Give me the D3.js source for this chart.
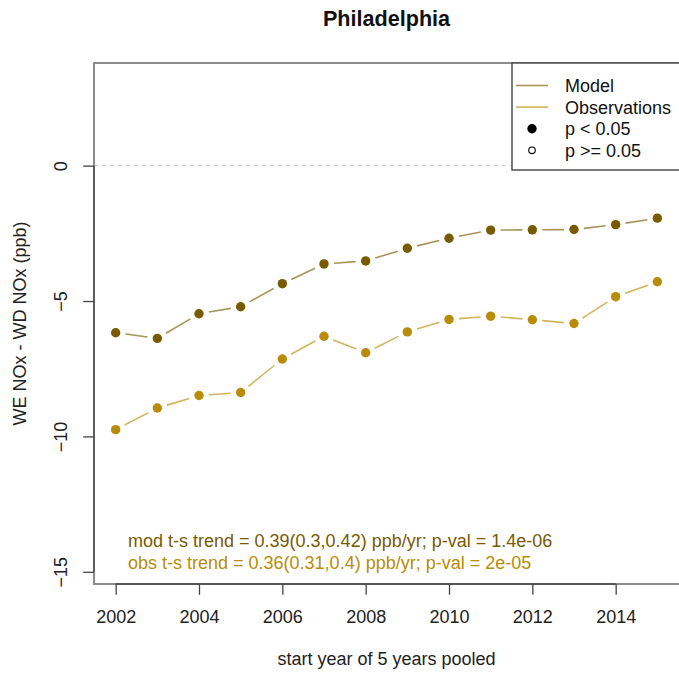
<!DOCTYPE html>
<html>
<head>
<meta charset="utf-8">
<script src="https://cdn.jsdelivr.net/npm/d3@7"></script>
<style>
  html, body { margin: 0; padding: 0; background: #fff; }
  svg { display: block; font-family: "Liberation Sans", Arial, Helvetica, sans-serif; }
</style>
</head>
<body>
<svg id="chart" width="679" height="673"></svg>
<script>
// Start year of each 5-year pooled window
const years = [2002, 2003, 2004, 2005, 2006, 2007, 2008, 2009, 2010, 2011, 2012, 2013, 2014, 2015];
// Weekend minus weekday NOx (ppb)
const modelValues = [-6.17, -6.38, -5.47, -5.21, -4.36, -3.63, -3.52, -3.05, -2.68, -2.38, -2.37, -2.36, -2.18, -1.94];
const obsValues   = [-9.75, -8.95, -8.49, -8.38, -7.14, -6.30, -6.91, -6.14, -5.68, -5.56, -5.69, -5.83, -4.84, -4.29];
// Significance of each point (true: p < 0.05)
const modelSig = years.map(() => true);
const obsSig   = years.map(() => true);

const xTicks = [2002, 2004, 2006, 2008, 2010, 2012, 2014];
const yTicks = [0, -5, -10, -15];
const legendLabels = ["Model", "Observations", "p < 0.05", "p >= 0.05"];
const trendLines = [
  "mod t-s trend = 0.39(0.3,0.42) ppb/yr; p-val = 1.4e-06",
  "obs t-s trend = 0.36(0.31,0.4) ppb/yr; p-val = 2e-05"
];

const modelColor = "#785a00";
const obsColor = "#b88c06";

const svg = d3.select("#chart");
const plot = { left: 94, right: 679, top: 63, bottom: 584 };

const x = d3.scaleLinear().domain([2001.48, 2015.52]).range([plot.left, plot.right]);
const y = d3.scaleLinear().domain([3.79, -15.45]).range([plot.top, plot.bottom]);

// Zero reference line
svg.append("line")
  .attr("x1", plot.left).attr("x2", plot.right)
  .attr("y1", y(0)).attr("y2", y(0))
  .attr("stroke", "#cfcfcf").attr("stroke-width", 1.2)
  .attr("stroke-dasharray", "4,4");

// Series: line segments with gaps around each point, then points
function drawSeries(vals, sig, color) {
  const pts = years.map((yr, i) => [x(yr), y(vals[i])]);
  const gap = 10;
  const g = svg.append("g");
  for (let i = 0; i < pts.length - 1; i++) {
    const [x0, y0] = pts[i], [x1, y1] = pts[i + 1];
    const dx = x1 - x0, dy = y1 - y0, len = Math.hypot(dx, dy);
    if (len <= 2 * gap) continue;
    const ux = dx / len, uy = dy / len;
    g.append("line")
      .attr("x1", x0 + ux * gap).attr("y1", y0 + uy * gap)
      .attr("x2", x1 - ux * gap).attr("y2", y1 - uy * gap)
      .attr("stroke", color).attr("stroke-opacity", 0.65)
      .attr("stroke-width", 1.6);
  }
  g.selectAll("circle").data(pts).join("circle")
    .attr("cx", d => d[0]).attr("cy", d => d[1])
    .attr("r", (d, i) => sig[i] ? 4.7 : 3.3)
    .attr("fill", (d, i) => sig[i] ? color : "#fff")
    .attr("stroke", color).attr("stroke-width", (d, i) => sig[i] ? 0 : 1.2);
}
drawSeries(modelValues, modelSig, modelColor);
drawSeries(obsValues, obsSig, obsColor);

// Plot frame
svg.append("rect")
  .attr("x", plot.left).attr("y", plot.top)
  .attr("width", plot.right - plot.left + 5).attr("height", plot.bottom - plot.top)
  .attr("fill", "none").attr("stroke", "#808080").attr("stroke-width", 1.8);

// Axes
const xAxis = d3.axisBottom(x).tickValues(xTicks).tickFormat(d3.format("d"))
  .tickSize(10.8).tickPadding(0).tickSizeOuter(0);
const gx = svg.append("g").attr("transform", `translate(0,${plot.bottom})`).call(xAxis);
gx.select(".domain").remove();
gx.append("line").attr("x1", x(2002)).attr("x2", x(2014)).attr("stroke", "#444").attr("stroke-width", 1.3);
gx.selectAll(".tick line").attr("stroke", "#444").attr("stroke-width", 1.3);
gx.selectAll(".tick text")
  .attr("y", 39).attr("dy", null)
  .attr("font-size", 18).attr("fill", "#222")
  .attr("font-family", "Liberation Sans, Arial, sans-serif");

const yAxis = d3.axisLeft(y).tickValues(yTicks).tickFormat(d3.format("d"))
  .tickSize(10.8).tickPadding(0).tickSizeOuter(0);
const gy = svg.append("g").attr("transform", `translate(${plot.left},0)`).call(yAxis);
gy.select(".domain").remove();
gy.append("line").attr("y1", y(0)).attr("y2", y(-15)).attr("stroke", "#444").attr("stroke-width", 1.3);
gy.selectAll(".tick line").attr("stroke", "#444").attr("stroke-width", 1.3);
gy.selectAll(".tick text")
  .attr("x", null).attr("dy", null)
  .attr("transform", "translate(-27,0) rotate(-90)")
  .attr("text-anchor", "middle")
  .attr("font-size", 18).attr("fill", "#222")
  .attr("font-family", "Liberation Sans, Arial, sans-serif");

// Titles
svg.append("text")
  .attr("x", (plot.left + plot.right) / 2).attr("y", 26)
  .attr("text-anchor", "middle").attr("font-weight", "bold").attr("font-size", 21.6)
  .attr("fill", "#111").text("Philadelphia");
svg.append("text")
  .attr("x", (plot.left + plot.right) / 2).attr("y", 665)
  .attr("text-anchor", "middle").attr("font-size", 18).attr("fill", "#222")
  .text("start year of 5 years pooled");
svg.append("text")
  .attr("transform", `translate(26,${(plot.top + plot.bottom) / 2}) rotate(-90)`)
  .attr("text-anchor", "middle").attr("font-size", 18).attr("fill", "#222")
  .text("WE NOx - WD NOx (ppb)");

// Trend annotations
svg.append("text").attr("x", 128).attr("y", 547)
  .attr("font-size", 18).attr("fill", modelColor).text(trendLines[0]);
svg.append("text").attr("x", 128).attr("y", 569)
  .attr("font-size", 18).attr("fill", obsColor).text(trendLines[1]);

// Legend
const lg = svg.append("g");
lg.append("rect")
  .attr("x", 512).attr("y", plot.top)
  .attr("width", 200).attr("height", 170 - plot.top)
  .attr("fill", "#fff").attr("stroke", "#444").attr("stroke-width", 1.4);
const rowY = d => 85.5 + d * 21.6;
lg.append("line").attr("x1", 516).attr("x2", 548).attr("y1", rowY(0)).attr("y2", rowY(0))
  .attr("stroke", modelColor).attr("stroke-opacity", 0.65).attr("stroke-width", 1.6);
lg.append("line").attr("x1", 516).attr("x2", 548).attr("y1", rowY(1)).attr("y2", rowY(1))
  .attr("stroke", obsColor).attr("stroke-opacity", 0.65).attr("stroke-width", 1.6);
lg.append("circle").attr("cx", 532).attr("cy", rowY(2)).attr("r", 4.7).attr("fill", "#000");
lg.append("circle").attr("cx", 532).attr("cy", rowY(3)).attr("r", 3.3)
  .attr("fill", "#fff").attr("stroke", "#000").attr("stroke-width", 1.1);
lg.selectAll("text.lab").data(legendLabels).join("text")
  .attr("class", "lab")
  .attr("x", 565).attr("y", (d, i) => rowY(i) + 6.5)
  .attr("font-size", 18).attr("fill", "#111").text(d => d);
</script>
</body>
</html>
